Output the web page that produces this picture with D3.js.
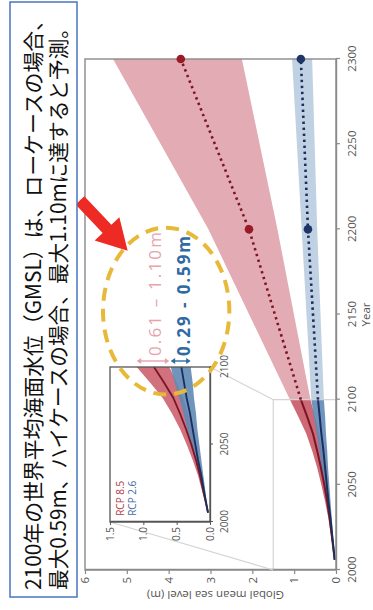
<!DOCTYPE html>
<html><head><meta charset="utf-8">
<script src="https://cdn.jsdelivr.net/npm/d3@7/dist/d3.min.js"></script>
<style>body{margin:0;background:#fff}svg{display:block}</style>
</head><body>
<svg id="c" width="373" height="610"></svg>
<script>
// ---------- data ----------
const projYears   = [2006, 2020, 2030, 2040, 2050, 2060, 2070, 2080, 2090, 2100];
const rcp85Median = [0.03, 0.10, 0.15, 0.21, 0.28, 0.36, 0.45, 0.55, 0.69, 0.84];
const rcp85Low    = [0.03, 0.08, 0.12, 0.16, 0.21, 0.27, 0.33, 0.40, 0.50, 0.61];
const rcp85High   = [0.03, 0.12, 0.18, 0.26, 0.35, 0.45, 0.57, 0.71, 0.90, 1.10];
const rcp26Median = [0.03, 0.09, 0.13, 0.18, 0.22, 0.26, 0.30, 0.35, 0.39, 0.43];
const rcp26Low    = [0.03, 0.07, 0.10, 0.13, 0.16, 0.19, 0.21, 0.24, 0.26, 0.29];
const rcp26High   = [0.03, 0.11, 0.16, 0.22, 0.29, 0.34, 0.40, 0.46, 0.53, 0.59];

const extYears       = [2100, 2200, 2300];
const rcp85ExtMedian = [0.84, 2.08, 3.71];
const rcp85ExtLow    = [0.61, 1.40, 2.25];
const rcp85ExtHigh   = [1.10, 3.05, 5.33];
const rcp26ExtMedian = [0.43, 0.67, 0.84];
const rcp26ExtLow    = [0.29, 0.45, 0.57];
const rcp26ExtHigh   = [0.59, 0.82, 1.05];
const markerYears    = [2200, 2300];

const yearTicks        = [2000, 2050, 2100, 2150, 2200, 2250, 2300];
const levelTicks       = [0, 1, 2, 3, 4, 5, 6];
const insetYearTicks   = [2000, 2050, 2100];
const insetLevelTicks  = [0, 0.5, 1.0, 1.5];
const insetLevelLabels = ["0.0", "0.5", "1.0", "1.5"];
const seriesNames      = ["RCP 8.5", "RCP 2.6"];
const range85Text = "0.61 \u2013 1.10m";
const range26Text = "0.29 - 0.59m";
const headline = ["2100年の世界平均海面水位（GMSL）は、ローケースの場合、",
                  "最大0.59m、ハイケースの場合、最大1.10mに達すると予測。"];

// ---------- helpers ----------
const rows = (yrs, med, lo, hi) => yrs.map((yr, i) => ({year: yr, med: med[i], lo: lo[i], hi: hi[i]}));
const p85 = rows(projYears, rcp85Median, rcp85Low, rcp85High);
const p26 = rows(projYears, rcp26Median, rcp26Low, rcp26High);
const e85 = rows(extYears, rcp85ExtMedian, rcp85ExtLow, rcp85ExtHigh);
const e26 = rows(extYears, rcp26ExtMedian, rcp26ExtLow, rcp26ExtHigh);

const C = {
  red: "#7d1424", redBand: "#c85866", redExt: "#e3abb3",
  blue: "#1c2f5c", blueBand: "#5f89b6", blueExt: "#bfd1e2",
  axis: "#8a8a8a", text: "#555", grayLine: "#d4d4d4"
};
const FONT = "'Liberation Sans Narrow','Open Sans',sans-serif";

const svg = d3.select("#c");
svg.append("rect").attr("width", 373).attr("height", 610).attr("fill", "#fff");
// chart is laid out landscape (610 x 373) then turned a quarter turn counter-clockwise
const root = svg.append("g").attr("transform", "translate(0,610) rotate(-90)");

const x = d3.scaleLinear().domain([2000, 2300]).range([40, 551]);
const y = d3.scaleLinear().domain([0, 6]).range([336, 85]);
const xi = d3.scaleLinear().domain([2000, 2100]).range([88, 243]);
const yi = d3.scaleLinear().domain([0, 1.5]).range([210, 110]);

const areaGen = (sx, sy) => d3.area().x(d => sx(d.year)).y0(d => sy(d.lo)).y1(d => sy(d.hi));
const lineGen = (sx, sy) => d3.line().x(d => sx(d.year)).y(d => sy(d.med));

// ---------- main chart ----------
const main = root.append("g");
main.append("path").datum(e85).attr("d", areaGen(x, y)).attr("fill", C.redExt);
main.append("path").datum(e26).attr("d", areaGen(x, y)).attr("fill", C.blueExt);
main.append("path").datum(p85).attr("d", areaGen(x, y)).attr("fill", C.redBand).attr("opacity", 0.9);
main.append("path").datum(p26).attr("d", areaGen(x, y)).attr("fill", C.blueBand).attr("opacity", 0.9);
main.append("path").datum(p85).attr("d", lineGen(x, y)).attr("fill", "none").attr("stroke", C.red).attr("stroke-width", 2);
main.append("path").datum(p26).attr("d", lineGen(x, y)).attr("fill", "none").attr("stroke", C.blue).attr("stroke-width", 2);

// zoom rectangle (2000-2100, 0-1.5)
main.append("path")
  .attr("d", `M${x(2000)},${y(1.5)}H${x(2100)}V${y(0)}`)
  .attr("fill", "none").attr("stroke", C.grayLine).attr("stroke-width", 1.2);

main.append("path").datum(e85).attr("d", lineGen(x, y)).attr("fill", "none")
  .attr("stroke", C.red).attr("stroke-width", 2.6).attr("stroke-dasharray", "2.4,3.6");
main.append("path").datum(e26).attr("d", lineGen(x, y)).attr("fill", "none")
  .attr("stroke", C.blue).attr("stroke-width", 2.6).attr("stroke-dasharray", "2.4,3.6");

// frame
main.append("rect").attr("x", x(2000)).attr("y", y(6))
  .attr("width", x(2300) - x(2000)).attr("height", y(0) - y(6))
  .attr("fill", "none").attr("stroke", C.axis).attr("stroke-width", 1.4);

main.selectAll("circle.m85").data(e85.filter(d => markerYears.includes(d.year))).join("circle")
  .attr("cx", d => x(d.year)).attr("cy", d => y(d.med)).attr("r", 4.3).attr("fill", "#9a1a26");
main.selectAll("circle.m26").data(e26.filter(d => markerYears.includes(d.year))).join("circle")
  .attr("cx", d => x(d.year)).attr("cy", d => y(d.med)).attr("r", 4.3).attr("fill", "#1f3566");

const ax = main.append("g").attr("transform", `translate(0,${y(0)})`)
  .call(d3.axisBottom(x).tickValues(yearTicks).tickFormat(d3.format("d")).tickSize(4).tickSizeOuter(0).tickPadding(8));
const ay = main.append("g").attr("transform", `translate(${x(2000)},0)`)
  .call(d3.axisLeft(y).tickValues(levelTicks).tickFormat(d3.format("d")).tickSize(4).tickSizeOuter(0).tickPadding(3));
[ax, ay].forEach(a => {
  a.select(".domain").attr("stroke", C.axis).attr("stroke-width", 1.4);
  a.selectAll(".tick line").attr("stroke", C.axis).attr("stroke-width", 1.2);
  a.selectAll(".tick text").attr("fill", C.text).style("font-family", FONT).style("font-size", "11.5px");
});
main.append("text").attr("x", (x(2000) + x(2300)) / 2).attr("y", 370)
  .attr("text-anchor", "middle").attr("fill", C.text)
  .style("font-family", FONT).style("font-size", "11.5px").text("Year");
main.append("text").attr("transform", `translate(19,${(y(0) + y(6)) / 2 + 5}) rotate(-90)`)
  .attr("text-anchor", "middle").attr("fill", C.text)
  .style("font-family", FONT).style("font-size", "11.5px").text("Global mean sea level (m)");

// connectors from zoom rectangle to inset
const conn = root.append("g").attr("stroke", C.grayLine).attr("stroke-width", 1.1);
conn.append("line").attr("x1", x(2000)).attr("y1", y(1.5)).attr("x2", xi(2000)).attr("y2", yi(1.5));
conn.append("line").attr("x1", x(2100)).attr("y1", y(1.5)).attr("x2", xi(2100)).attr("y2", yi(0));

// ---------- inset ----------
const ins = root.append("g");
ins.append("rect").attr("x", xi(2000)).attr("y", yi(1.5))
  .attr("width", xi(2100) - xi(2000)).attr("height", yi(0) - yi(1.5)).attr("fill", "#fff");
ins.append("path").datum(p85).attr("d", areaGen(xi, yi)).attr("fill", C.redBand).attr("opacity", 0.85);
ins.append("path").datum(p26).attr("d", areaGen(xi, yi)).attr("fill", C.blueBand).attr("opacity", 0.9);
ins.append("path").datum(p85).attr("d", lineGen(xi, yi)).attr("fill", "none").attr("stroke", C.red).attr("stroke-width", 1.8);
ins.append("path").datum(p26).attr("d", lineGen(xi, yi)).attr("fill", "none").attr("stroke", C.blue).attr("stroke-width", 1.8);
ins.append("rect").attr("x", xi(2000)).attr("y", yi(1.5))
  .attr("width", xi(2100) - xi(2000)).attr("height", yi(0) - yi(1.5))
  .attr("fill", "none").attr("stroke", "#555").attr("stroke-width", 1.3);
const iax = ins.append("g").attr("transform", `translate(0,${yi(0)})`)
  .call(d3.axisBottom(xi).tickValues(insetYearTicks).tickFormat(d3.format("d")).tickSize(3).tickSizeOuter(0).tickPadding(8));
const iay = ins.append("g").attr("transform", `translate(${xi(2000)},0)`)
  .call(d3.axisLeft(yi).tickValues(insetLevelTicks).tickFormat((d, i) => insetLevelLabels[i]).tickSize(3).tickSizeOuter(0).tickPadding(2));
[iax, iay].forEach(a => {
  a.select(".domain").attr("stroke", "#555").attr("stroke-width", 1.3);
  a.selectAll(".tick line").attr("stroke", "#555");
  a.selectAll(".tick text").attr("fill", C.text).style("font-family", FONT).style("font-size", "10px");
});
ins.append("text").attr("x", xi(2004)).attr("y", yi(1.29)).attr("fill", "#b03a48")
  .style("font-family", FONT).style("font-size", "10px").text(seriesNames[0]);
ins.append("text").attr("x", xi(2004)).attr("y", yi(1.11)).attr("fill", "#3f6b9c")
  .style("font-family", FONT).style("font-size", "10px").text(seriesNames[1]);

// ---------- annotations ----------
const ann = root.append("g");
// double-headed range arrows spanning each 2100 band of the inset
function rangeArrow(u, vTop, vBot, color) {
  const g = ann.append("g").attr("stroke", color).attr("fill", color);
  g.append("line").attr("x1", u).attr("x2", u).attr("y1", vTop + 3).attr("y2", vBot - 3).attr("stroke-width", 1.4);
  g.append("path").attr("stroke", "none")
    .attr("d", `M${u},${vTop}l-3,4.5h6Z M${u},${vBot}l-3,-4.5h6Z`);
}
const last85 = p85[p85.length - 1], last26 = p26[p26.length - 1];
rangeArrow(xi(2100) + 6, yi(last85.hi), yi(last85.lo), "#e6a3ad");
rangeArrow(xi(2100) + 6, yi(last26.hi), yi(last26.lo), "#2f6aa3");

ann.append("text").attr("x", xi(2100) + 11).attr("y", y(4.18)).attr("fill", "#e6a3ad")
  .attr("textLength", 124).attr("lengthAdjust", "spacing")
  .style("font-family", "'Open Sans',sans-serif").style("font-size", "17px")
  .text(range85Text);
ann.append("text").attr("x", xi(2100) + 11).attr("y", y(3.49)).attr("fill", "#2f6aa3")
  .attr("textLength", 120).attr("lengthAdjust", "spacing")
  .style("font-family", "'Open Sans',sans-serif").style("font-size", "17px").style("font-weight", "bold")
  .text(range26Text);

ann.append("ellipse").attr("cx", x(2152)).attr("cy", y(4.06))
  .attr("rx", x(2152) - x(2103)).attr("ry", y(2.55) - y(4.06))
  .attr("fill", "none").attr("stroke", "#e8b838").attr("stroke-width", 4)
  .attr("stroke-dasharray", "13,8");

// red block arrow (tail -> tip in chart coordinates)
(function () {
  const tail = [x(2217), y(6.12)], tip = [x(2187.5), y(4.98)];
  const dx = tip[0] - tail[0], dy = tip[1] - tail[1], L = Math.hypot(dx, dy);
  const ux = dx / L, uy = dy / L, nx = -uy, ny = ux;
  const head = 30, hw = 17, sw = 6;
  const bx = tip[0] - ux * head, by = tip[1] - uy * head;
  const pts = [
    [tail[0] + nx * sw, tail[1] + ny * sw], [bx + nx * sw, by + ny * sw], [bx + nx * hw, by + ny * hw],
    tip, [bx - nx * hw, by - ny * hw], [bx - nx * sw, by - ny * sw], [tail[0] - nx * sw, tail[1] - ny * sw]
  ];
  ann.append("path").attr("d", d3.line()(pts) + "Z").attr("fill", "#ee2a24");
})();

// headline box
const box = root.append("g");
box.append("rect").attr("x", 13).attr("y", 10).attr("width", 595).attr("height", 67)
  .attr("fill", "#fff").attr("stroke", "#4a74c0").attr("stroke-width", 1.5);
box.selectAll("text").data(headline).join("text")
  .attr("x", 20).attr("y", (d, i) => 41 + i * 25)
  .attr("textLength", (d, i) => i === 0 ? 580 : 572).attr("lengthAdjust", "spacingAndGlyphs")
  .attr("fill", "#111").style("font-family", "'Noto Sans CJK JP',sans-serif").style("font-size", "21px")
  .text(d => d);
</script>
</body></html>
